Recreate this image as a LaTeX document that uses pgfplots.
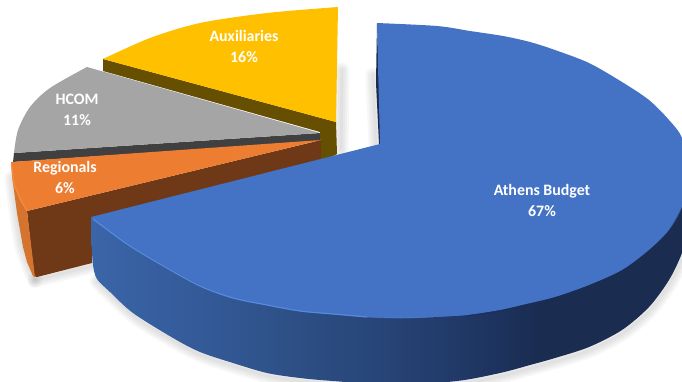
\documentclass[border=0pt]{standalone}
\usepackage{pgfplots}
\pgfplotsset{compat=1.18}
\usepackage{fontspec}
\setmainfont{Carlito}

\definecolor{sliceBlue}{HTML}{4472C4}
\definecolor{wallBlue}{HTML}{1A2C50}
\definecolor{sliceOrange}{HTML}{ED7D31}
\definecolor{wallOrange}{HTML}{6F3816}
\definecolor{rimOrange}{HTML}{D4742F}
\definecolor{sliceGrey}{HTML}{A5A5A5}
\definecolor{wallGrey}{HTML}{404040}
\definecolor{sliceGold}{HTML}{FFC000}
\definecolor{wallGold}{HTML}{664F00}
\definecolor{bevelBlue}{HTML}{568ADE}
\definecolor{rimA}{HTML}{3A65A8}
\definecolor{rimB}{HTML}{345A98}
\definecolor{rimC}{HTML}{2D4F85}
\definecolor{rimD}{HTML}{264375}
\definecolor{rimE}{HTML}{1E3460}

\tikzset{slice text/.style={align=center,text=white,font=\bfseries\fontsize{15.9}{21}\selectfont}}

% Rim of the large slice, lit from the left and falling into shade to the right;
% the path's extent runs over the middle of the shading, 25bp to 75bp
\pgfdeclarehorizontalshading{blueRim}{100bp}{
  color(0bp)=(rimA);
  color(25bp)=(rimA);
  color(34bp)=(rimB);
  color(42bp)=(rimC);
  color(50bp)=(rimD);
  color(58bp)=(rimE);
  color(62bp)=(wallBlue);
  color(100bp)=(wallBlue)}

% Soft drop shadow: the same outline stroked several times, widening
\newcommand{\softedge}[2][]{%
  \addplot[smooth,draw=black,opacity=0.03,line width=15pt,line cap=round,#1] coordinates {#2};
  \addplot[smooth,draw=black,opacity=0.03,line width=11pt,line cap=round,#1] coordinates {#2};
  \addplot[smooth,draw=black,opacity=0.03,line width=7pt,line cap=round,#1] coordinates {#2};
  \addplot[smooth,draw=black,opacity=0.03,line width=3pt,line cap=round,#1] coordinates {#2};
}

\begin{document}
\begin{tikzpicture}
\path[use as bounding box] (0,0) rectangle (682pt,381pt);
\begin{axis}[
    hide axis, scale only axis,
    width=682pt, height=381pt,
    xmin=0, xmax=682, ymin=0, ymax=381,
    y dir=reverse,
    clip=true,
    every axis plot/.append style={forget plot},
]
% Drop shadows on the page
\softedge[yshift=-3pt,xshift=1pt]{(96,278)(133,313)(173,338)(200,352)(233,363)(267,373)(300,378)(333,381)(395,385)(457,381)(500,373)(530,365)(555,358)(589,347)(622,330)(649,307)(669,280)(682,253)(692,220)}
\softedge[yshift=-3pt]{(12,175)(17,213)(23,247)(35,277)}
\softedge[yshift=-3pt]{(35,277)(92,263)}
\softedge[xshift=3pt]{(339,70)(338,150)}
\softedge[xshift=-3pt]{(376,75)(379,145)}

% Auxiliaries
\addplot[draw=none,fill=wallGold] coordinates {(103,59)(336,122)(337,154)(321,162)(320,132)(103,71)} -- cycle;
\addplot[smooth,draw=none,fill=sliceGold] coordinates {(338,7)(267,13)(200,23)(150,38)(103,59)};
\addplot[draw=none,fill=sliceGold] coordinates {(338,7)(200,26)(103,59)(336,122)} -- cycle;

% HCOM
\addplot[draw=none,fill=wallGrey] coordinates {(14,153)(320,133)(320,141)(13,162)} -- cycle;
\addplot[smooth,draw=none,fill=sliceGrey] coordinates {(87,67)(50,88)(30,107)(18,130)(14,153)};
\addplot[draw=none,fill=sliceGrey] coordinates {(87,67)(36,105)(14,153)(320,133)} -- cycle;

% Regionals
\addplot[draw=none,fill=wallOrange] coordinates {(27,211)(321,140)(321,165)(92,225)(92,263)(37,277)(34,276)} -- cycle;
\addplot[draw=none,fill=rimOrange] coordinates {(11,162)(13,183)(20,200)(27,211)(35,277)(33,276)(27,262)(23,247)(17,213)(13,183)} -- cycle;
\addplot[smooth,draw=none,fill=sliceOrange] coordinates {(11,162)(13,183)(20,200)(27,211)};
\addplot[draw=none,fill=sliceOrange] coordinates {(11,162)(18,190)(27,211)(321,140)} -- cycle;

% Athens Budget: rim, then top face in two overlapping arcs and a core
\addplot[draw=none,fill=wallBlue] coordinates {(377,23)(376,83)(379,144)(381,144)} -- cycle;
\addplot[smooth,draw=none,shading=blueRim] coordinates {(91,217)(91.5,240)(93,265)(97,279)(110,292)(133,313)(173,338)(200,352)(233,363)(267,373)(300,378)(333,381)(395,385)(457,381)(500,373)(530,365)(555,358)(589,347)(622,330)(649,307)(669,280)(682,253)(692,220)(695,170)};
\addplot[smooth,draw=none,fill=sliceBlue] coordinates {(377,23)(437,26)(470,31)(503,36)(530,42)(555,50)(589,63)(622,82)(649,100)(669,120)(682,138)(689,172)(682,207)(669,230)(649,250)(622,270)(589,285)(555,297)(522,305)(500,310)(467,315)(433,317)(400,318)};
\addplot[smooth,draw=none,fill=sliceBlue] coordinates {(467,315)(433,317)(400,318)(367,317)(333,314)(300,311)(267,305)(233,298)(200,285)(160,263)(127,243)(91,217)};
\addplot[draw=none,fill=sliceBlue] coordinates {(377,23)(560,60)(600,270)(400,316)(165,260)(91,217)(380,144)} -- cycle;
% Bevel along the near edge of the top face
\addplot[smooth,draw=bevelBlue,line width=1.2pt] coordinates {(93,219)(127,244)(160,264)(200,286)(233,298)(267,305)(300,311)(333,314)(367,317)};
\addplot[smooth,draw=bevelBlue,line width=1pt,opacity=0.4] coordinates {(367,317)(400,318)(433,317)};
\addplot[smooth,draw=wallBlue,line width=1.4pt,opacity=0.35] coordinates {(467,316)(500,311)(522,306)(555,298)(589,286)(622,271)(649,251)(669,231)(682,208)};
% Bright lip on the Regionals rim
\addplot[smooth,draw={rgb,255:red,245;green,140;blue,60},line width=1pt] coordinates {(12,165)(14,183)(21,200)(27,211)};

\node[slice text] at (axis cs:244,46) {Auxiliaries\\16\%};
\node[slice text] at (axis cs:77,110) {HCOM\\11\%};
\node[slice text] at (axis cs:65,177) {Regionals\\6\%};
\node[slice text] at (axis cs:542,200) {Athens Budget\\67\%};
\end{axis}
\end{tikzpicture}
\end{document}
